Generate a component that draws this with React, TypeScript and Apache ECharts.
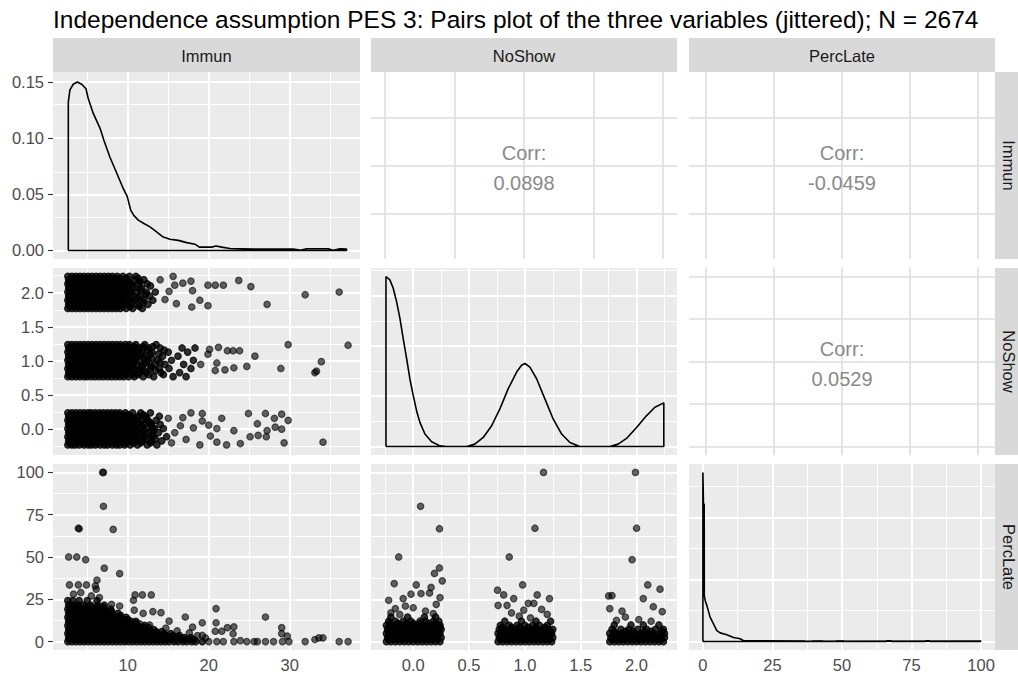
import { useEffect, useRef } from "react";
import * as echarts from "echarts";

// ---------- text ----------
const chartTitle =
  "Independence assumption PES 3: Pairs plot of the three variables (jittered); N = 2674";
const variableNames = ["Immun", "NoShow", "PercLate"];
// [row, col, correlation label]
const corrCells: [number, number, string][] = [
  [0, 1, "0.0898"],
  [0, 2, "-0.0459"],
  [1, 2, "0.0529"],
];

// ---------- axis breaks ----------
const immunBreaks = [10, 20, 30];
const immunMinor = [5, 15, 25, 35];
const noShowBreaks = [0, 0.5, 1, 1.5, 2];
const noShowMinor = [-0.25, 0.25, 0.75, 1.25, 1.75, 2.25];
const percLateBreaks = [0, 25, 50, 75, 100];
const percLateMinor = [12.5, 37.5, 62.5, 87.5];
const immunDensityBreaks = [0, 0.05, 0.1, 0.15];
const immunDensityMinor = [0.025, 0.075, 0.125];
const noShowDensityBreaks = [0, 0.4, 0.8, 1.2];
const noShowDensityMinor = [0.2, 0.6, 1.0, 1.4];
const percLateDensityBreaks = [0, 0.1, 0.2];
const percLateDensityMinor = [0.05, 0.15, 0.25];

// ---------- densities (diagonal) ----------
const immunDensity: [number, number][] = [
  [2.66, 0], [2.66, 0.132], [2.86, 0.143], [3.27, 0.148], [3.77, 0.15], [4.31, 0.148],
  [4.84, 0.144], [5.13, 0.135], [5.74, 0.122], [6.57, 0.109], [7.06, 0.098], [7.8, 0.083],
  [8.63, 0.069], [9.45, 0.055], [9.94, 0.048], [10.36, 0.036], [10.77, 0.031], [11.3, 0.027],
  [12.0, 0.024], [12.74, 0.021], [13.48, 0.017], [14.38, 0.012], [15.21, 0.01], [16.24, 0.009],
  [17.27, 0.007], [18.3, 0.0056], [18.83, 0.003], [20.35, 0.003], [20.89, 0.004], [21.59, 0.003],
  [22.62, 0.0018], [25.5, 0.0012], [30.4, 0.0012], [31.26, 0.0003], [32.09, 0.0015],
  [34.75, 0.0015], [35.37, 0.0003], [36.2, 0.0015], [37.02, 0.0012], [37.02, 0], [2.66, 0],
];

const noShowDensity: [number, number][] = [
  [-0.244, 0], [-0.244, 1.352], [-0.209, 1.325], [-0.179, 1.259], [-0.149, 1.152],
  [-0.119, 1.019], [-0.09, 0.86], [-0.059, 0.699], [-0.03, 0.539], [0.0, 0.406], [0.03, 0.285],
  [0.06, 0.192], [0.105, 0.099], [0.165, 0.038], [0.239, 0.005], [0.299, 0], [0.478, 0],
  [0.552, 0.019], [0.627, 0.072], [0.702, 0.165], [0.776, 0.299], [0.851, 0.46], [0.926, 0.592],
  [0.97, 0.646], [1.0, 0.66], [1.045, 0.631], [1.105, 0.539], [1.179, 0.379], [1.253, 0.219],
  [1.329, 0.099], [1.403, 0.032], [1.492, 0], [1.761, 0], [1.835, 0.019], [1.91, 0.064],
  [2.0, 0.151], [2.09, 0.246], [2.164, 0.312], [2.244, 0.347], [2.244, 0], [-0.244, 0],
];

const percLateDensity: [number, number][] = [
  [0, 0], [0, 0.273], [0.2, 0.222], [0.47, 0.222], [0.5, 0.074], [0.83, 0.066], [1.43, 0.058],
  [2.62, 0.039], [3.8, 0.0285], [5.0, 0.0177], [6.2, 0.014], [8.6, 0.011], [11.0, 0.0065],
  [13.4, 0.0044], [14.5, 0.0016], [15, 0.0012], [36.5, 0.001], [37, 0], [39, 0], [39.5, 0.001],
  [43, 0.001], [43.5, 0], [47.5, 0], [48, 0.001], [50.5, 0.001], [51, 0], [65.8, 0],
  [66.2, 0.0012], [67.6, 0.0012], [68, 0], [79.8, 0], [80.2, 0.0012], [81.4, 0.0012], [81.8, 0],
  [99.6, 0], [100, 0.001], [100, 0], [0, 0],
];

// ---------- Immun x NoShow (jittered) ----------
// dense part: [NoShow, Immun values at that NoShow]
const immunByNoShowRows: [number, number[]][] = [
  // NoShow = 0
  [-0.23, [2.6, 3.1, 3.5, 4.0, 4.6, 5.1, 5.5, 6.0, 6.6, 7.1, 7.5, 8.1, 8.6, 9.0, 9.6, 10.3, 11.2, 12.4, 13.6]],
  [-0.2, [2.8, 3.3, 3.8, 4.3, 4.8, 5.3, 5.8, 6.3, 6.8, 7.3, 7.8, 8.3, 8.8, 9.3, 9.8, 10.7, 11.6, 12.8]],
  [-0.17, [2.7, 3.2, 3.7, 4.1, 4.5, 5.0, 5.6, 6.1, 6.5, 7.0, 7.6, 8.0, 8.5, 9.1, 9.7, 10.1, 10.9, 11.8, 12.9, 14.2]],
  [-0.14, [2.9, 3.4, 3.9, 4.4, 4.9, 5.4, 5.9, 6.4, 6.9, 7.4, 7.9, 8.4, 8.9, 9.4, 10.0, 10.9, 12.2, 13.4]],
  [-0.11, [2.6, 3.0, 3.4, 3.9, 4.4, 4.9, 5.3, 5.8, 6.3, 6.8, 7.3, 7.8, 8.3, 8.8, 9.3, 9.8, 10.6, 11.4, 12.1, 13.1, 14.8]],
  [-0.08, [2.8, 3.3, 3.8, 4.3, 4.8, 5.3, 5.8, 6.3, 6.8, 7.3, 7.8, 8.3, 8.8, 9.3, 9.9, 10.5, 11.5, 12.9]],
  [-0.05, [2.7, 3.2, 3.6, 4.2, 4.7, 5.2, 5.7, 6.2, 6.7, 7.2, 7.7, 8.2, 8.7, 9.2, 9.9, 10.4, 11.0, 11.9, 12.6, 13.8]],
  [-0.02, [2.9, 3.4, 3.9, 4.4, 4.9, 5.4, 5.9, 6.4, 6.9, 7.4, 7.9, 8.4, 8.9, 9.4, 10.1, 11.1, 12.0, 13.2]],
  [0.01, [2.6, 3.1, 3.5, 4.0, 4.5, 5.0, 5.4, 5.9, 6.4, 6.9, 7.4, 7.9, 8.4, 8.9, 9.4, 10.0, 10.7, 11.5, 12.3, 13.3, 14.4]],
  [0.04, [2.8, 3.3, 3.8, 4.3, 4.8, 5.3, 5.8, 6.3, 6.8, 7.3, 7.8, 8.3, 8.8, 9.3, 9.9, 10.8, 11.8, 13.0]],
  [0.07, [2.7, 3.3, 3.8, 4.3, 4.8, 5.3, 5.7, 6.3, 6.8, 7.3, 7.7, 8.2, 8.8, 9.3, 9.8, 10.5, 11.2, 12.0, 12.9, 14.0]],
  [0.1, [2.9, 3.4, 3.9, 4.4, 4.9, 5.4, 5.9, 6.4, 6.9, 7.4, 7.9, 8.4, 8.9, 9.4, 10.0, 10.6, 11.4, 12.7]],
  [0.13, [2.6, 3.0, 3.5, 3.9, 4.4, 4.9, 5.4, 5.9, 6.4, 6.9, 7.4, 7.9, 8.4, 8.9, 9.5, 10.2, 10.8, 11.7, 12.5, 13.5]],
  [0.16, [2.8, 3.3, 3.8, 4.3, 4.8, 5.3, 5.8, 6.3, 6.8, 7.3, 7.8, 8.3, 8.8, 9.3, 9.9, 11.0, 12.3]],
  [0.19, [2.7, 3.2, 3.7, 4.2, 4.7, 5.2, 5.6, 6.1, 6.6, 7.1, 7.6, 8.1, 8.6, 9.1, 9.6, 10.4, 11.3, 12.2, 13.9]],
  [0.21, [2.9, 3.4, 3.9, 4.4, 4.9, 5.4, 5.9, 6.4, 6.9, 7.4, 7.9, 8.4, 8.9, 9.4, 10.1, 11.9]],
  [0.24, [2.6, 3.1, 3.6, 4.1, 4.6, 5.1, 5.5, 6.0, 6.5, 7.0, 7.5, 8.0, 8.5, 9.0, 9.7, 10.6, 11.6, 12.8]],
  // NoShow = 1
  [0.77, [2.6, 3.1, 3.6, 4.1, 4.6, 5.0, 5.5, 6.0, 6.5, 7.0, 7.5, 8.0, 8.5, 9.0, 9.5, 10.1, 10.8, 11.9, 13.2, 15.6, 17.2]],
  [0.8, [2.8, 3.3, 3.8, 4.3, 4.8, 5.3, 5.8, 6.3, 6.8, 7.3, 7.8, 8.3, 8.8, 9.3, 9.8, 10.6, 11.3, 12.6, 14.4]],
  [0.83, [2.7, 3.2, 3.7, 4.2, 4.7, 5.2, 5.7, 6.2, 6.7, 7.2, 7.7, 8.2, 8.7, 9.2, 9.8, 10.5, 11.4, 12.3, 14.1, 16.4]],
  [0.86, [2.9, 3.4, 3.9, 4.4, 4.9, 5.4, 5.9, 6.4, 6.9, 7.4, 7.9, 8.4, 8.9, 9.4, 10.0, 10.9, 12.0, 13.4]],
  [0.89, [2.6, 3.0, 3.5, 4.0, 4.4, 4.9, 5.4, 5.9, 6.4, 6.9, 7.4, 7.9, 8.4, 8.9, 9.4, 9.9, 10.7, 11.6, 12.8, 13.9, 15.1, 17.8]],
  [0.92, [2.8, 3.3, 3.8, 4.3, 4.8, 5.3, 5.8, 6.3, 6.8, 7.3, 7.8, 8.3, 8.8, 9.3, 9.9, 10.4, 11.7, 12.9]],
  [0.95, [2.7, 3.2, 3.6, 4.1, 4.6, 5.1, 5.6, 6.1, 6.6, 7.1, 7.6, 8.1, 8.6, 9.1, 9.6, 10.3, 11.1, 12.0, 13.3, 14.6, 16.9]],
  [0.98, [2.9, 3.4, 3.9, 4.4, 4.9, 5.4, 5.9, 6.4, 6.9, 7.4, 7.9, 8.4, 8.9, 9.4, 10.1, 10.8, 12.3, 14.0]],
  [1.01, [2.6, 3.1, 3.5, 4.0, 4.5, 5.0, 5.5, 6.0, 6.4, 6.9, 7.4, 7.9, 8.4, 8.9, 9.4, 10.0, 10.6, 11.5, 12.5, 13.7, 15.4, 18.1]],
  [1.04, [2.8, 3.3, 3.8, 4.3, 4.8, 5.3, 5.8, 6.3, 6.8, 7.3, 7.8, 8.3, 8.8, 9.3, 9.9, 10.5, 11.0, 12.0, 13.0]],
  [1.07, [2.7, 3.3, 3.8, 4.3, 4.8, 5.3, 5.8, 6.3, 6.8, 7.3, 7.8, 8.3, 8.8, 9.3, 9.9, 10.4, 11.2, 12.2, 14.3, 16.2]],
  [1.1, [2.9, 3.4, 3.9, 4.4, 4.9, 5.4, 5.9, 6.4, 6.9, 7.4, 7.9, 8.4, 8.9, 9.4, 10.0, 10.7, 11.6, 12.8, 13.8]],
  [1.13, [2.6, 3.0, 3.5, 3.9, 4.4, 4.9, 5.4, 5.9, 6.4, 6.9, 7.4, 7.9, 8.4, 8.9, 9.5, 10.2, 10.9, 11.8, 13.0, 15.0, 17.4]],
  [1.16, [2.8, 3.3, 3.8, 4.3, 4.8, 5.3, 5.8, 6.3, 6.8, 7.3, 7.8, 8.3, 8.8, 9.3, 9.9, 10.6, 11.3, 12.4, 14.5]],
  [1.19, [2.7, 3.2, 3.7, 4.2, 4.7, 5.2, 5.7, 6.2, 6.7, 7.2, 7.7, 8.2, 8.7, 9.2, 9.7, 10.5, 11.4, 12.6, 14.0, 16.7, 18.3]],
  [1.21, [2.9, 3.4, 3.9, 4.4, 4.9, 5.4, 5.9, 6.4, 6.9, 7.4, 7.9, 8.4, 8.9, 9.4, 10.0, 10.8, 11.9, 13.1]],
  [1.24, [2.6, 3.1, 3.6, 4.1, 4.6, 5.1, 5.6, 6.1, 6.6, 7.1, 7.6, 8.1, 8.6, 9.1, 9.7, 10.2, 11.0, 12.1, 13.5]],
  // NoShow = 2
  [1.77, [2.6, 3.1, 3.6, 4.1, 4.6, 5.1, 5.6, 6.1, 6.6, 7.1, 7.6, 8.1, 8.6, 9.1, 9.8, 10.6, 11.8]],
  [1.8, [2.8, 3.3, 3.8, 4.3, 4.8, 5.3, 5.8, 6.3, 6.8, 7.3, 7.8, 8.3, 8.8, 9.4, 10.3, 11.4]],
  [1.83, [2.7, 3.2, 3.7, 4.2, 4.7, 5.2, 5.7, 6.2, 6.7, 7.2, 7.7, 8.2, 8.7, 9.3, 10.1, 11.2, 12.5]],
  [1.86, [2.9, 3.4, 3.9, 4.4, 4.9, 5.4, 5.9, 6.4, 6.9, 7.4, 7.9, 8.4, 8.9, 9.6, 10.5, 11.9]],
  [1.89, [2.6, 3.0, 3.5, 4.0, 4.5, 5.0, 5.5, 5.9, 6.4, 6.9, 7.4, 7.9, 8.4, 8.9, 9.4, 10.3, 10.9, 12.0, 13.1]],
  [1.92, [2.8, 3.3, 3.8, 4.3, 4.8, 5.3, 5.8, 6.3, 6.8, 7.3, 7.8, 8.3, 8.8, 9.3, 10.0, 11.3]],
  [1.95, [2.7, 3.2, 3.6, 4.1, 4.6, 5.1, 5.6, 6.1, 6.6, 7.1, 7.6, 8.1, 8.6, 9.1, 9.9, 10.7, 11.5, 12.7]],
  [1.98, [2.9, 3.4, 3.9, 4.4, 4.9, 5.4, 5.9, 6.4, 6.9, 7.4, 7.9, 8.4, 8.9, 9.5, 10.4, 12.2]],
  [2.01, [2.6, 3.1, 3.5, 4.0, 4.5, 5.0, 5.4, 5.9, 6.4, 6.9, 7.4, 7.9, 8.4, 8.9, 9.5, 10.2, 11.1, 12.3, 13.4]],
  [2.04, [2.8, 3.3, 3.8, 4.3, 4.8, 5.3, 5.8, 6.3, 6.8, 7.3, 7.8, 8.3, 8.8, 9.2, 10.0, 11.6]],
  [2.07, [2.7, 3.3, 3.8, 4.3, 4.8, 5.3, 5.8, 6.3, 6.8, 7.3, 7.8, 8.3, 8.8, 9.3, 10.0, 10.8, 11.7]],
  [2.1, [2.9, 3.4, 3.9, 4.4, 4.9, 5.4, 5.9, 6.4, 6.9, 7.4, 7.9, 8.4, 8.9, 9.6, 10.6, 12.8]],
  [2.13, [2.6, 3.0, 3.5, 3.9, 4.4, 4.9, 5.4, 5.9, 6.4, 6.9, 7.4, 7.9, 8.4, 8.9, 9.6, 10.4, 11.3, 12.4]],
  [2.16, [2.8, 3.3, 3.8, 4.3, 4.8, 5.3, 5.8, 6.3, 6.8, 7.3, 7.8, 8.3, 8.8, 9.4, 10.1, 11.5]],
  [2.19, [2.7, 3.2, 3.7, 4.2, 4.7, 5.2, 5.7, 6.2, 6.7, 7.2, 7.7, 8.2, 8.7, 9.2, 9.9, 10.9, 12.0]],
  [2.21, [2.9, 3.4, 3.9, 4.4, 4.9, 5.4, 5.9, 6.4, 6.9, 7.4, 7.9, 8.4, 9.0, 9.8, 11.3]],
  [2.24, [2.6, 3.1, 3.6, 4.1, 4.6, 5.1, 5.6, 6.1, 6.6, 7.1, 7.6, 8.1, 8.7, 9.4, 10.2, 11.0]],
];
// sparse part: [Immun, NoShow]
const immunNoShowOutliers: [number, number][] = [
  [15.0, 0.16], [16.8, 0.17], [17.8, 0.24], [19.2, 0.23], [19.2, 0.12], [20.0, 0.06], [21.0, 0.01],
  [21.6, 0.16], [22.2, -0.23], [23.1, -0.02], [23.9, -0.21], [24.9, 0.23], [25.1, -0.11], [26.0, 0.08],
  [26.1, -0.09], [27.0, 0.23], [27.2, -0.02], [27.1, -0.11], [28.1, 0.16], [28.2, 0.03], [29.0, 0.22],
  [29.0, 0.0], [29.8, 0.13], [29.3, -0.2], [18.9, -0.23], [34.1, -0.19], [21.0, -0.19], [20.2, -0.1],
  [15.8, -0.05], [16.5, 0.05], [17.2, -0.15], [15.4, -0.2], [18.1, 0.02],
  [19.9, 1.1], [20.1, 1.17], [21.2, 1.2], [21.0, 0.97], [20.8, 0.86], [22.0, 0.87], [22.3, 1.15],
  [23.0, 1.15], [23.8, 1.15], [23.1, 0.9], [24.7, 0.92], [25.7, 1.07], [28.9, 0.89], [29.8, 1.24],
  [33.1, 0.83], [33.3, 0.85], [33.9, 0.99], [37.2, 1.23], [19.0, 0.95],
  [14.0, 2.19], [15.6, 2.24], [15.8, 2.11], [16.8, 2.14], [16.0, 1.84], [17.8, 2.17], [18.0, 2.03],
  [18.9, 1.89], [17.9, 1.79], [19.9, 2.11], [19.9, 1.81], [20.8, 2.11], [21.8, 2.11], [23.7, 2.18],
  [25.2, 2.09], [27.2, 1.83], [31.9, 1.97], [36.1, 2.01], [14.6, 1.9], [15.1, 2.02],
];

// ---------- Immun x PercLate ----------
// dense part: [PercLate, Immun values at that PercLate]
const immunByPercLateRows: [number, number[]][] = [
  [0, [2.6, 3.1, 3.6, 4.1, 4.6, 5.1, 5.6, 6.1, 6.6, 7.1, 7.6, 8.1, 8.6, 9.1, 9.6, 10.1, 10.6, 11.1, 11.6, 12.1, 12.6, 13.1, 13.6, 14.1, 14.6, 15.1, 15.7, 16.2, 16.8, 17.3, 17.9, 18.4, 19.2]],
  [1.2, [2.8, 3.3, 3.8, 4.3, 4.8, 5.3, 5.8, 6.3, 6.8, 7.3, 7.8, 8.3, 8.8, 9.3, 9.8, 10.3, 10.8, 11.3, 11.8, 12.3, 12.9, 13.4, 13.9, 14.4, 14.9, 15.5, 16.0, 16.6, 17.1, 17.7, 18.2]],
  [2.3, [2.7, 3.2, 3.7, 4.2, 4.7, 5.2, 5.7, 6.2, 6.7, 7.2, 7.7, 8.2, 8.7, 9.2, 9.7, 10.2, 10.7, 11.2, 11.7, 12.2, 12.8, 13.3, 13.9, 14.4, 15.0, 15.6, 16.3, 17.0, 17.8]],
  [3.5, [2.9, 3.4, 3.9, 4.4, 4.9, 5.4, 5.9, 6.4, 6.9, 7.4, 7.9, 8.4, 8.9, 9.4, 9.9, 10.4, 10.9, 11.4, 12.0, 12.5, 13.1, 13.6, 14.2, 14.8, 15.6, 16.4]],
  [4.7, [2.6, 3.1, 3.6, 4.1, 4.6, 5.1, 5.6, 6.1, 6.6, 7.1, 7.6, 8.1, 8.6, 9.1, 9.6, 10.1, 10.7, 11.2, 11.8, 12.4, 13.0, 13.7, 14.5, 15.3]],
  [5.9, [2.8, 3.3, 3.8, 4.3, 4.8, 5.3, 5.8, 6.3, 6.8, 7.3, 7.8, 8.3, 8.8, 9.3, 9.8, 10.4, 11.0, 11.5, 12.1, 12.8, 13.5, 14.2]],
  [7.1, [2.7, 3.2, 3.7, 4.2, 4.7, 5.2, 5.7, 6.2, 6.7, 7.2, 7.7, 8.2, 8.7, 9.2, 9.8, 10.3, 10.9, 11.6, 12.3, 13.2]],
  [8.3, [2.9, 3.4, 3.9, 4.4, 4.9, 5.4, 5.9, 6.4, 6.9, 7.4, 7.9, 8.4, 8.9, 9.5, 10.1, 10.7, 11.4, 12.0, 12.6]],
  [9.5, [2.6, 3.1, 3.6, 4.1, 4.6, 5.1, 5.6, 6.1, 6.6, 7.1, 7.6, 8.1, 8.6, 9.2, 9.8, 10.5, 11.3, 12.1]],
  [10.7, [2.8, 3.3, 3.8, 4.3, 4.8, 5.3, 5.8, 6.3, 6.8, 7.3, 7.8, 8.3, 8.9, 9.5, 10.2, 11.0]],
  [11.9, [2.7, 3.2, 3.7, 4.2, 4.7, 5.2, 5.7, 6.2, 6.7, 7.2, 7.7, 8.3, 8.9, 9.6, 10.4, 11.0]],
  [13.1, [2.9, 3.4, 3.9, 4.4, 4.9, 5.4, 5.9, 6.4, 6.9, 7.4, 7.9, 8.5, 9.1, 10.0]],
  [14.3, [2.6, 3.1, 3.6, 4.1, 4.6, 5.1, 5.6, 6.1, 6.6, 7.1, 7.7, 8.3, 9.0, 9.8]],
  [15.5, [2.8, 3.3, 3.8, 4.3, 4.8, 5.3, 5.8, 6.3, 6.9, 7.5, 8.2, 9.1]],
  [16.7, [2.7, 3.2, 3.7, 4.2, 4.7, 5.2, 5.7, 6.2, 6.8, 7.4, 8.1, 8.8]],
  [17.9, [2.9, 3.4, 3.9, 4.4, 4.9, 5.4, 6.0, 6.6, 7.3, 8.0]],
  [19.1, [2.6, 3.1, 3.6, 4.1, 4.7, 5.3, 5.9, 6.5, 7.2, 7.9]],
  [20.3, [2.8, 3.4, 4.0, 4.7, 5.5, 6.2, 7.0]],
  [21.5, [2.7, 3.3, 3.9, 4.6, 5.4, 6.3, 7.1]],
  [24.2, [2.6, 3.2, 4.0, 5.0, 6.2]],
];
// sparse part: [Immun, PercLate]
const immunPercLateOutliers: [number, number][] = [
  [6.9, 100], [7.0, 100], [7.0, 80], [3.9, 67], [4.0, 66.7], [8.2, 66.3], [2.7, 50], [3.7, 50],
  [4.8, 48.4], [7.1, 43.4], [9.0, 40.2], [6.2, 36.3], [2.8, 33.5], [3.9, 33.5], [4.9, 33.5],
  [6.0, 32.9], [6.1, 31], [10.9, 27.6], [11.8, 27.6], [12.9, 27.6], [10.7, 24.4], [13.1, 17.7],
  [14.1, 17.1], [11.9, 16.7], [10.8, 18.6], [9.0, 21], [17.1, 14.5], [20.9, 19.5], [27.0, 14.5],
  [20.9, 11.1], [19.2, 11.1], [15.1, 12.1], [20.8, 6.1], [21.6, 6.1], [22.3, 8.2], [23.1, 8.7],
  [23.0, 4.6], [29.0, 8.2], [29.0, 4.7], [29.7, 3.2], [19.2, 3.6], [18.0, 8.5],
  [20.0, 0], [21.0, 0], [21.8, 0], [23.1, 0], [23.9, 0.5], [24.7, 0], [25.6, 0], [26.0, 0],
  [27.0, 0], [28.0, 0], [29.1, 0], [29.9, 0], [31.9, 0], [33.1, 1.2], [33.6, 2.2], [34.1, 2.2],
  [36.1, 0], [37.2, 0],
  [3.3, 28], [5.5, 27], [4.2, 29], [6.5, 26], [8.0, 22], [9.6, 13], [11.5, 10.5], [12.7, 9.8],
  [14.7, 8], [16.1, 6.3], [17.6, 5.1], [18.6, 3.5], [19.6, 2.1],
];

// ---------- NoShow x PercLate ----------
// dense part: [PercLate, NoShow values at that PercLate]
const noShowByPercLateRows: [number, number[]][] = [
  // NoShow = 0
  [0, [-0.24, -0.2, -0.16, -0.12, -0.08, -0.04, 0, 0.04, 0.08, 0.12, 0.16, 0.2, 0.24]],
  [1.2, [-0.22, -0.18, -0.14, -0.1, -0.06, -0.02, 0.02, 0.06, 0.1, 0.14, 0.18, 0.22]],
  [2.4, [-0.23, -0.19, -0.15, -0.11, -0.07, -0.03, 0.01, 0.05, 0.09, 0.13, 0.17, 0.21, 0.25]],
  [3.6, [-0.22, -0.18, -0.14, -0.1, -0.06, -0.02, 0.02, 0.06, 0.1, 0.14, 0.18, 0.22]],
  [4.8, [-0.24, -0.2, -0.16, -0.12, -0.08, -0.04, 0, 0.04, 0.08, 0.12, 0.16, 0.2, 0.24]],
  [6.0, [-0.22, -0.18, -0.14, -0.1, -0.06, -0.02, 0.02, 0.06, 0.1, 0.14, 0.18, 0.22]],
  [7.2, [-0.23, -0.19, -0.15, -0.11, -0.07, -0.03, 0.01, 0.05, 0.09, 0.13, 0.17, 0.21, 0.25]],
  [8.4, [-0.22, -0.17, -0.12, -0.08, -0.03, 0.02, 0.06, 0.11, 0.15, 0.2, 0.24]],
  [9.6, [-0.24, -0.19, -0.14, -0.1, -0.05, -0.01, 0.03, 0.08, 0.12, 0.17, 0.21, 0.24]],
  [10.8, [-0.21, -0.14, -0.06, 0.0, 0.07, 0.14, 0.2]],
  [12, [-0.22, -0.16, -0.09, -0.02, 0.06, 0.11, 0.18, 0.23]],
  [14.5, [-0.2, -0.05, 0.1, 0.2]],
  // NoShow = 1
  [0, [0.76, 0.8, 0.84, 0.88, 0.92, 0.96, 1.0, 1.04, 1.08, 1.12, 1.16, 1.2, 1.24]],
  [1.2, [0.78, 0.82, 0.86, 0.9, 0.94, 0.98, 1.02, 1.06, 1.1, 1.14, 1.18, 1.22]],
  [2.4, [0.77, 0.81, 0.85, 0.89, 0.93, 0.97, 1.01, 1.05, 1.09, 1.13, 1.17, 1.21, 1.25]],
  [3.6, [0.78, 0.82, 0.86, 0.9, 0.94, 0.98, 1.02, 1.06, 1.1, 1.14, 1.18, 1.22]],
  [4.8, [0.76, 0.8, 0.84, 0.88, 0.92, 0.96, 1.0, 1.04, 1.08, 1.12, 1.16, 1.2, 1.24]],
  [6.0, [0.79, 0.84, 0.89, 0.94, 0.99, 1.04, 1.09, 1.14, 1.19, 1.23]],
  [7.2, [0.77, 0.82, 0.87, 0.92, 0.97, 1.01, 1.06, 1.11, 1.16, 1.21, 1.25]],
  [8.4, [0.8, 0.88, 0.95, 1.03, 1.1, 1.18]],
  [9.6, [0.78, 0.86, 0.93, 1.0, 1.07, 1.13, 1.2]],
  [12, [0.82, 0.97, 1.1, 1.23]],
  // NoShow = 2
  [0, [1.76, 1.8, 1.84, 1.88, 1.92, 1.96, 2.0, 2.04, 2.08, 2.12, 2.16, 2.2, 2.24]],
  [1.2, [1.78, 1.82, 1.86, 1.9, 1.94, 1.98, 2.02, 2.06, 2.1, 2.14, 2.18, 2.22]],
  [2.4, [1.77, 1.81, 1.86, 1.9, 1.95, 1.99, 2.03, 2.08, 2.12, 2.17, 2.21, 2.25]],
  [3.6, [1.79, 1.84, 1.89, 1.94, 2.0, 2.05, 2.1, 2.16, 2.22]],
  [4.8, [1.76, 1.81, 1.87, 1.93, 1.98, 2.04, 2.1, 2.15, 2.21, 2.25]],
  [6.0, [1.8, 1.9, 1.97, 2.07, 2.13, 2.23]],
  [7.2, [1.78, 1.86, 1.93, 2.01, 2.09, 2.17, 2.24]],
  [9.8, [1.8, 1.95, 2.06, 2.2]],
];
// sparse part: [NoShow, PercLate]
const noShowPercLateOutliers: [number, number][] = [
  [-0.13, 50], [0.066, 80], [0.235, 66.7], [0.235, 43.5], [0.19, 40.3], [0.26, 35.9], [-0.17, 34.3],
  [0.027, 33.5], [0.16, 32], [-0.22, 24.4], [-0.09, 25.4], [-0.02, 28], [0.07, 28.4], [0.146, 28.7],
  [-0.16, 19.5], [0.206, 22], [-0.2, 17], [0.0, 20], [0.11, 18], [-0.07, 21], [0.24, 26],
  [0.18, 16.5], [-0.12, 16],
  [1.167, 100], [1.09, 67], [0.86, 50], [0.98, 33.5], [0.755, 30.4], [0.81, 27.6], [1.11, 27.6],
  [1.22, 25.4], [0.9, 25.4], [0.76, 21.4], [0.84, 21.4], [1.03, 22.6], [1.08, 22.6], [1.2, 16.1],
  [0.99, 18.6], [0.95, 15], [1.05, 14], [0.88, 17], [1.15, 19],
  [1.99, 100], [2.0, 67], [1.96, 48.4], [2.1, 33.5], [2.21, 31], [1.75, 27], [1.78, 27.2],
  [2.06, 25.4], [2.15, 20.6], [1.76, 19.5], [2.23, 17.7], [1.87, 18], [1.9, 14.5], [2.02, 13],
  [1.82, 12.5], [2.13, 12],
];

// ---------- layout ----------
const fontFamily = '"Liberation Sans", Arial, Helvetica, sans-serif';
const columns = [
  { left: 53, width: 307 },
  { left: 371, width: 306 },
  { left: 689, width: 306 },
];
const rowsLayout = [
  { top: 72, height: 187 },
  { top: 268, height: 187 },
  { top: 464, height: 186 },
];
const stripTop = 38;
const stripHeight = 34;

type AxisSpec = { range: [number, number]; major: number[]; minor: number[]; digits: number };

const immunAxis: AxisSpec = { range: [0.77, 38.67], major: immunBreaks, minor: immunMinor, digits: 0 };
const noShowAxis: AxisSpec = { range: [-0.378, 2.362], major: noShowBreaks, minor: noShowMinor, digits: 1 };
const percLateAxis: AxisSpec = { range: [-5, 105], major: percLateBreaks, minor: percLateMinor, digits: 0 };
const immunDensityAxis: AxisSpec = { range: [-0.00757, 0.1589], major: immunDensityBreaks, minor: immunDensityMinor, digits: 2 };
const noShowDensityAxis: AxisSpec = { range: [-0.0676, 1.4196], major: noShowDensityBreaks, minor: noShowDensityMinor, digits: 1 };
const percLateDensityAxis: AxisSpec = { range: [-0.01365, 0.28665], major: percLateDensityBreaks, minor: percLateDensityMinor, digits: 2 };
// text panels keep only major grid lines
const immunCorrAxis: AxisSpec = { range: [0.6, 39.6], major: immunBreaks, minor: [], digits: 0 };
const noShowCorrAxis: AxisSpec = { range: [-0.1, 2.1], major: noShowBreaks, minor: [], digits: 1 };
const percLateCorrAxis: AxisSpec = { range: [-6.25, 106.25], major: percLateBreaks, minor: [], digits: 0 };

const expandRows = (rows: [number, number[]][]) =>
  rows.flatMap(([y, xs]) => xs.map((x) => [x, y]));

type Panel = {
  row: number;
  col: number;
  kind: "diag" | "scatter" | "corr";
  x: AxisSpec;
  y: AxisSpec;
  data?: number[][];
  core?: number[][];
  corr?: string;
};

const corrText = (r: number, c: number) =>
  (corrCells.find(([rr, cc]) => rr === r && cc === c) || [0, 0, ""])[2];

const panels: Panel[] = [
  { row: 0, col: 0, kind: "diag", x: immunAxis, y: immunDensityAxis, data: immunDensity },
  { row: 0, col: 1, kind: "corr", x: noShowCorrAxis, y: immunCorrAxis, corr: corrText(0, 1) },
  { row: 0, col: 2, kind: "corr", x: percLateCorrAxis, y: immunCorrAxis, corr: corrText(0, 2) },
  { row: 1, col: 0, kind: "scatter", x: immunAxis, y: noShowAxis, core: expandRows(immunByNoShowRows), data: immunNoShowOutliers },
  { row: 1, col: 1, kind: "diag", x: noShowAxis, y: noShowDensityAxis, data: noShowDensity },
  { row: 1, col: 2, kind: "corr", x: percLateCorrAxis, y: noShowCorrAxis, corr: corrText(1, 2) },
  { row: 2, col: 0, kind: "scatter", x: immunAxis, y: percLateAxis, core: expandRows(immunByPercLateRows), data: immunPercLateOutliers },
  { row: 2, col: 1, kind: "scatter", x: noShowAxis, y: percLateAxis, core: expandRows(noShowByPercLateRows), data: noShowPercLateOutliers },
  { row: 2, col: 2, kind: "diag", x: percLateAxis, y: percLateDensityAxis, data: percLateDensity },
];

function makeAxis(spec: AxisSpec, index: number, showOuter: boolean, isX: boolean) {
  return {
    type: "value",
    gridIndex: index,
    min: spec.range[0],
    max: spec.range[1],
    axisLine: { show: false },
    splitLine: { show: false },
    minorSplitLine: { show: false },
    axisTick: {
      show: showOuter,
      customValues: spec.major,
      length: 5,
      lineStyle: { color: "#333333", width: 1.1 },
    },
    axisLabel: {
      show: showOuter,
      customValues: spec.major,
      formatter: (v: number) => v.toFixed(spec.digits),
      color: "#4d4d4d",
      fontSize: 16.5,
      fontFamily,
      margin: isX ? 6 : 9,
    },
  };
}

function gridLineSeries(p: Panel, index: number) {
  const color = p.kind === "corr" ? "#dedede" : "#ffffff";
  const majorW = p.kind === "corr" ? 1.6 : 2;
  const item = (key: "xAxis" | "yAxis", v: number, w: number) => ({
    [key]: v,
    lineStyle: { color, width: w, type: "solid" },
  });
  return {
    type: "line",
    xAxisIndex: index,
    yAxisIndex: index,
    data: [],
    z: 1,
    silent: true,
    markLine: {
      z: 1,
      silent: true,
      animation: false,
      symbol: ["none", "none"],
      label: { show: false },
      emphasis: { disabled: true },
      lineStyle: { color, type: "solid" },
      data: [
        ...p.x.minor.map((v) => item("xAxis", v, 1.1)),
        ...p.y.minor.map((v) => item("yAxis", v, 1.1)),
        ...p.x.major.map((v) => item("xAxis", v, majorW)),
        ...p.y.major.map((v) => item("yAxis", v, majorW)),
      ],
    },
  };
}

// one scatter layer; each symbol is its own translucent circle
function pointSeries(index: number, data: number[][], alpha: number) {
  const c = `rgba(0,0,0,${alpha})`;
  return {
    type: "scatter",
    xAxisIndex: index,
    yAxisIndex: index,
    data,
    symbolSize: 6.5,
    large: false,
    progressive: 0,
    z: 3,
    emphasis: { disabled: true },
    itemStyle: { color: c, borderColor: c, borderWidth: 1.2, opacity: 1 },
  };
}

function buildOption() {
  const grid = panels.map((p) => ({
    left: columns[p.col].left,
    top: rowsLayout[p.row].top,
    width: columns[p.col].width,
    height: rowsLayout[p.row].height,
    show: true,
    backgroundColor: p.kind === "corr" ? "#ffffff" : "#ebebeb",
    borderWidth: 0,
    containLabel: false,
    outerBoundsMode: "none",
  }));

  const xAxis = panels.map((p, i) => makeAxis(p.x, i, p.row === 2, true));
  const yAxis = panels.map((p, i) => makeAxis(p.y, i, p.col === 0, false));

  const series: any[] = panels.map((p, i) => gridLineSeries(p, i));
  panels.forEach((p, i) => {
    if (p.kind === "diag") {
      series.push({
        type: "line",
        xAxisIndex: i,
        yAxisIndex: i,
        data: p.data,
        symbol: "none",
        showSymbol: false,
        smooth: false,
        z: 3,
        lineStyle: { color: "#000000", width: 1.6 },
      });
    } else if (p.kind === "scatter") {
      series.push(pointSeries(i, p.core || [], 0.8));
      series.push(pointSeries(i, p.data || [], 0.6));
    }
  });

  const graphic: any[] = [
    {
      type: "text",
      x: 53,
      y: 19,
      style: {
        text: chartTitle,
        fill: "#000000",
        fontSize: 24.5,
        fontFamily,
        align: "left",
        verticalAlign: "middle",
      },
    },
  ];
  columns.forEach((c, i) => {
    graphic.push({
      type: "rect",
      shape: { x: c.left, y: stripTop, width: c.width, height: stripHeight },
      style: { fill: "#d9d9d9" },
    });
    graphic.push({
      type: "text",
      x: c.left + c.width / 2,
      y: stripTop + stripHeight / 2 + 1,
      style: {
        text: variableNames[i],
        fill: "#1a1a1a",
        fontSize: 16.5,
        fontFamily,
        align: "center",
        verticalAlign: "middle",
      },
    });
  });
  rowsLayout.forEach((r, i) => {
    graphic.push({
      type: "rect",
      shape: { x: 995, y: r.top, width: 40, height: r.height },
      style: { fill: "#d9d9d9" },
    });
    graphic.push({
      type: "text",
      x: 1009,
      y: r.top + r.height / 2,
      rotation: -Math.PI / 2,
      style: {
        text: variableNames[i],
        fill: "#1a1a1a",
        fontSize: 16.5,
        fontFamily,
        align: "center",
        verticalAlign: "middle",
      },
    });
  });
  panels
    .filter((p) => p.kind === "corr")
    .forEach((p) => {
      const c = columns[p.col];
      const r = rowsLayout[p.row];
      graphic.push({
        type: "text",
        x: c.left + c.width / 2,
        y: r.top + r.height / 2 + 2,
        z: 10,
        style: {
          text: "Corr:\n" + p.corr,
          fill: "#8a8a8a",
          fontSize: 20,
          lineHeight: 30,
          fontFamily,
          align: "center",
          verticalAlign: "middle",
        },
      });
    });

  return {
    animation: false,
    backgroundColor: "#ffffff",
    textStyle: { fontFamily },
    grid,
    xAxis,
    yAxis,
    series,
    graphic,
  };
}

export default function App() {
  const ref = useRef<HTMLDivElement>(null);
  useEffect(() => {
    if (!ref.current) return;
    const chart = echarts.init(ref.current, null, { renderer: "svg" });
    chart.setOption(buildOption() as any);
    return () => chart.dispose();
  }, []);
  return (
    <div
      ref={ref}
      style={{ position: "absolute", left: 0, top: 0, width: 1018, height: 676, background: "#ffffff" }}
    />
  );
}
